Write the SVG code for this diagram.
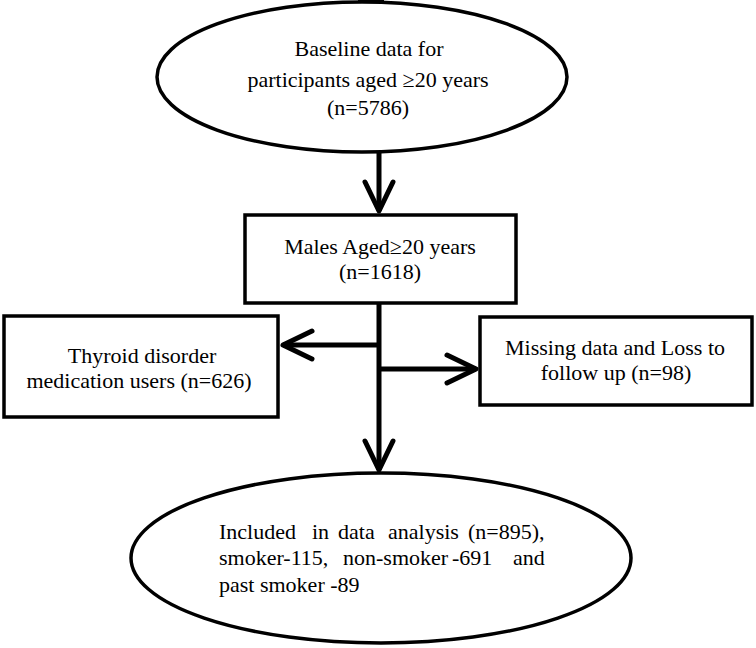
<svg xmlns="http://www.w3.org/2000/svg" width="756" height="648" viewBox="0 0 756 648">
<style>
.shape{fill:#fff;stroke:#000;stroke-width:3.5}
.t{font-family:'Liberation Serif','DejaVu Serif',serif;font-size:22px;fill:#000}
.c{text-anchor:middle}
.ln{stroke:#000;stroke-width:5;fill:none}
</style>
<defs>
<marker id="arr" markerUnits="userSpaceOnUse" markerWidth="40" markerHeight="40" viewBox="-34 -20 40 40" refX="0" refY="0" orient="auto">
<path d="M-29,-14 L0,0 L-29,14" fill="none" stroke="#000" stroke-width="5" stroke-linejoin="round" stroke-linecap="round"/>
</marker>
</defs>
<rect width="756" height="648" fill="#fff"/>
<g id="connectors">
<line class="ln" x1="358" y1="1" x2="384" y2="1" stroke-width="4"/>
<line class="ln" x1="379" y1="153" x2="379" y2="211" marker-end="url(#arr)"/>
<line class="ln" x1="379" y1="303" x2="379" y2="470" marker-end="url(#arr)"/>
<line class="ln" x1="381" y1="345" x2="283" y2="345" marker-end="url(#arr)"/>
<line class="ln" x1="377" y1="369" x2="476" y2="369" marker-end="url(#arr)"/>
</g>
<g id="node-baseline">
<ellipse class="shape" cx="362" cy="77" rx="205" ry="75"/>
<text class="t c" x="369" y="56">Baseline data for</text>
<text class="t c" x="368" y="87">participants aged ≥20 years</text>
<text class="t c" x="368" y="115">(n=5786)</text>
</g>
<g id="node-males">
<rect class="shape" x="245" y="215" width="271" height="88"/>
<text class="t c" x="380" y="254">Males Aged≥20 years</text>
<text class="t c" x="380" y="279">(n=1618)</text>
</g>
<g id="node-thyroid">
<rect class="shape" x="4" y="316" width="274" height="101"/>
<text class="t c" x="142" y="363">Thyroid disorder</text>
<text class="t c" x="139" y="388">medication users (n=626)</text>
</g>
<g id="node-missing">
<rect class="shape" x="480" y="317" width="272" height="88"/>
<text class="t c" x="615" y="355">Missing data and Loss to</text>
<text class="t c" x="616" y="380">follow up (n=98)</text>
</g>
<g id="node-included">
<ellipse class="shape" cx="381" cy="558" rx="250" ry="85"/>
<text class="t" y="539"><tspan x="219">Included</tspan><tspan x="312">in</tspan><tspan x="338">data</tspan><tspan x="388">analysis</tspan><tspan x="468">(n=895),</tspan></text>
<text class="t" y="565"><tspan x="219">smoker-115,</tspan><tspan x="343">non-smoker</tspan><tspan x="452">-691</tspan><tspan x="513">and</tspan></text>
<text class="t" y="592"><tspan x="219">past smoker -89</tspan></text>
</g>
</svg>
